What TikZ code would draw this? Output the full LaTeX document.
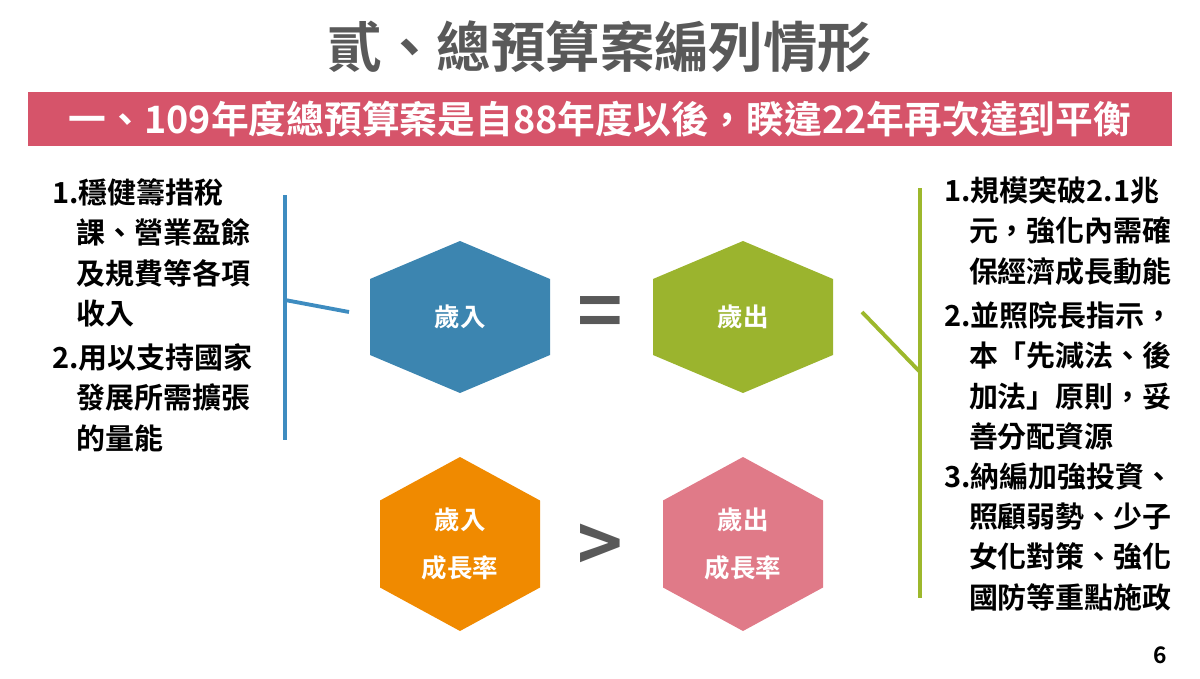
\documentclass[tikz,border=0pt]{standalone}
\usepackage{fontspec}
\setmainfont{Noto Sans CJK TC}[BoldFont={Noto Sans CJK TC Bold}]
\usetikzlibrary{positioning}
\definecolor{titlegray}{HTML}{595959}
\definecolor{bannerred}{HTML}{D6546A}
\definecolor{hexblue}{HTML}{3C85B0}
\definecolor{hexgreen}{HTML}{9BB42E}
\definecolor{hexorange}{HTML}{F08A00}
\definecolor{hexpink}{HTML}{E07A88}
\definecolor{barblue}{HTML}{3E8CC0}
\definecolor{bargreen}{HTML}{9DB82C}
% hexagon: centre, half width, half height, colour
\newcommand{\hexshape}[4]{%
  \fill[#4] ($(#1)+(0,#3)$) -- ($(#1)+(#2,#3/2)$) -- ($(#1)+(#2,-#3/2)$)
    -- ($(#1)+(0,-#3)$) -- ($(#1)+(-#2,-#3/2)$) -- ($(#1)+(-#2,#3/2)$) -- cycle;}
\newcommand{\ind}{\hspace{0.85em}}
\usetikzlibrary{calc}
\begin{document}
\begin{tikzpicture}[x=0.02cm, y=-0.02cm,
  hextext/.style={text=white, font=\fontsize{14.5}{20}\selectfont\bfseries, align=center},
  body/.style={anchor=north west, align=left, font=\fontsize{16.5}{23}\selectfont\bfseries, inner sep=0pt},
  bar/.style={line width=2.2pt}]
\useasboundingbox (0,0) rectangle (1200,679);
% title and banner
\node[text=titlegray, font=\fontsize{31}{34}\selectfont\bfseries] (title) at (600,47) {貳、總預算案編列情形};
\fill[bannerred] (28,92) rectangle (1172,146);
\node[text=white, font=\fontsize{21.5}{24}\selectfont\bfseries] (banner) at (600,119)
  {一、109年度總預算案是自88年度以後，睽違22年再次達到平衡};
% hexagons
\coordinate (inC) at (460,317);
\coordinate (outC) at (743,317);
\coordinate (ingC) at (460,544);
\coordinate (outgC) at (743,544);
\hexshape{inC}{90}{76}{hexblue}
\hexshape{outC}{90}{76}{hexgreen}
\hexshape{ingC}{80}{87}{hexorange}
\hexshape{outgC}{80}{87}{hexpink}
\node[hextext] (in) at (inC) {歲入};
\node[hextext] (out) at (outC) {歲出};
\node[hextext, font=\fontsize{14.5}{27}\selectfont\bfseries] (ing) at (ingC) {歲入\\成長率};
\node[hextext, font=\fontsize{14.5}{27}\selectfont\bfseries] (outg) at (outgC) {歲出\\成長率};
\node[text=titlegray, font=\fontsize{44}{44}\selectfont\bfseries] (eq) at (600,318) {=};
\node[text=titlegray, font=\fontsize{44}{44}\selectfont\bfseries] (gt) at (600,548) {>};
% left bracket
\coordinate (lb1) at (285,195);
\coordinate (lb2) at (285,440);
\coordinate (lbm) at (285,300);
\coordinate (lbe) at (349,312);
\draw[bar, barblue] (lb1) -- (lb2);
\draw[bar, barblue] (lbm) -- (lbe);
% right bracket
\coordinate (rb1) at (920,188);
\coordinate (rb2) at (920,598);
\coordinate (rbm) at (920,372);
\coordinate (rbe) at (862,312);
\draw[bar, bargreen] (rb1) -- (rb2);
\draw[bar, bargreen] (rbm) -- (rbe);
% left text
\node[body] (l1) at (52,178) {1.穩健籌措稅\\\ind 課、營業盈餘\\\ind 及規費等各項\\\ind 收入};
\node[body] (l2) at (52,343) {2.用以支持國家\\\ind 發展所需擴張\\\ind 的量能};
% right text
\node[body] (r1) at (944,176) {1.規模突破2.1兆\\\ind 元，強化內需確\\\ind 保經濟成長動能};
\node[body] (r2) at (944,301) {2.並照院長指示，\\\ind 本「先減法、後\\\ind 加法」原則，妥\\\ind 善分配資源};
\node[body] (r3) at (944,462) {3.納編加強投資、\\\ind 照顧弱勢、少子\\\ind 女化對策、強化\\\ind 國防等重點施政};
\node[font=\fontsize{13}{15}\selectfont\bfseries] (page) at (1160,655) {6};
\end{tikzpicture}
\end{document}
